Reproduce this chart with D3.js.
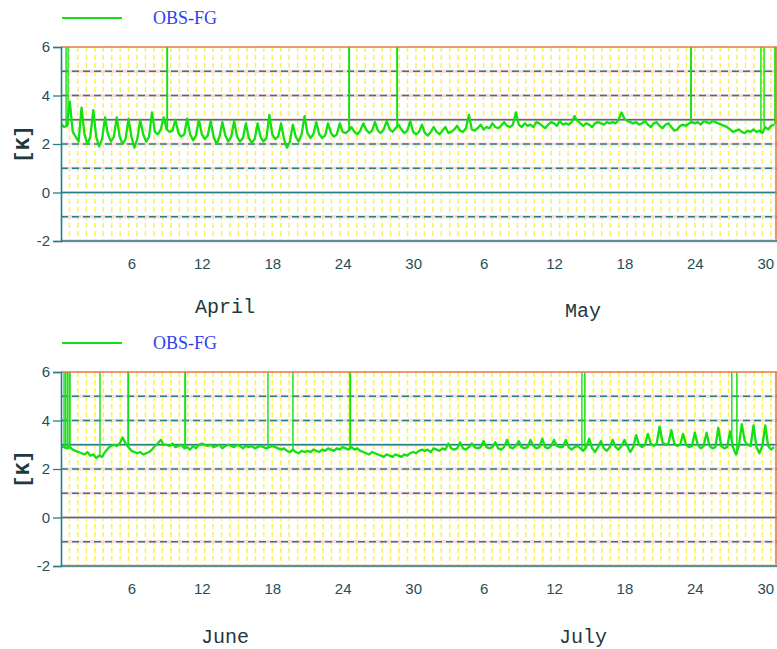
<!DOCTYPE html>
<html>
<head>
<meta charset="utf-8">
<script src="https://cdn.jsdelivr.net/npm/d3@7"></script>
<style>
  body { margin: 0; background: #fff; }
</style>
</head>
<body>
<div id="chart"></div>
<script>
// ---- data ----
const legendLabel = "OBS-FG";
const unitLabel = "[K]";
const yTicks = [-2, 0, 2, 4, 6];
const gridDashed = [-1, 1, 2, 4, 5];
const gridSolid = [0, 3];
const xTickDays = [6, 12, 18, 24, 30, 36, 42, 48, 54, 60];
const xTickLabels = ["6", "12", "18", "24", "30", "6", "12", "18", "24", "30"];
const monthsTop = ["April", "May"];
const monthsBottom = ["June", "July"];
const monthLengthsTop = [30, 31];
const monthLengthsBottom = [30, 31];

// 6-hourly OBS-FG means (00, 06, 12, 18 UTC), 1 April - 31 May
const aprMay = [
  2.85, 2.7, 2.75, 3.75,   2.5, 2.3, 2.1, 3.5,
  2.4, 2.0, 2.3, 3.4,      2.3, 1.9, 2.2, 3.1,
  2.4, 2.1, 2.3, 3.1,      2.3, 2.0, 2.2, 3.05,
  2.3, 1.85, 2.2, 3.0,     2.4, 2.1, 2.3, 3.3,
  2.5, 2.4, 2.6, 3.1,      2.6, 2.5, 2.55, 3.0,
  2.45, 2.3, 2.4, 3.05,    2.4, 2.15, 2.35, 3.0,
  2.4, 2.2, 2.35, 2.95,    2.3, 2.0, 2.3, 2.9,
  2.35, 2.1, 2.3, 2.95,    2.3, 2.1, 2.25, 2.85,
  2.25, 2.05, 2.2, 2.85,   2.3, 2.1, 2.25, 3.2,
  2.4, 2.2, 2.3, 2.85,     2.2, 1.85, 2.1, 2.8,
  2.3, 2.1, 2.4, 3.15,     2.45, 2.25, 2.4, 2.9,
  2.4, 2.25, 2.35, 2.85,   2.45, 2.3, 2.4, 2.85,
  2.5, 2.45, 2.55, 2.7,    2.5, 2.4, 2.55, 2.85,
  2.6, 2.45, 2.55, 2.9,    2.55, 2.45, 2.6, 2.95,
  2.6, 2.5, 2.65, 2.8,     2.6, 2.45, 2.55, 2.95,
  2.5, 2.4, 2.5, 2.8,      2.45, 2.35, 2.5, 2.7,
  2.5, 2.4, 2.55, 2.7,     2.45, 2.5, 2.6, 2.75,
  2.55, 2.5, 2.65, 3.2,    2.6, 2.55, 2.65, 2.8,
  2.6, 2.7, 2.65, 2.85,    2.7, 2.65, 2.75, 2.9,
  2.75, 2.7, 2.8, 3.3,     2.8, 2.7, 2.85, 2.75,
  2.8, 2.7, 2.9, 2.85,     2.75, 2.65, 2.8, 2.9,
  2.85, 2.75, 2.95, 2.8,   2.85, 2.8, 2.9, 3.15,
  2.95, 2.85, 2.75, 2.85,  2.8, 2.7, 2.85, 2.9,
  2.85, 2.8, 2.9, 2.85,    2.9, 2.85, 3.0, 3.3,
  3.05, 2.95, 2.9, 2.85,   2.9, 2.8, 2.85, 2.95,
  2.8, 2.7, 2.85, 2.9,     2.75, 2.65, 2.8, 2.85,
  2.7, 2.55, 2.6, 2.75,    2.8, 2.75, 2.85, 2.9,
  2.85, 2.9, 2.8, 2.95,    2.9, 2.85, 2.95, 2.9,
  2.85, 2.8, 2.75, 2.7,    2.6, 2.5, 2.55, 2.6,
  2.5, 2.45, 2.55, 2.5,    2.6, 2.5, 2.55, 2.45,
  2.7, 2.6, 2.75, 2.8
];

// 6-hourly OBS-FG means, 1 June - 31 July
const junJul = [
  2.95, 2.9, 2.85, 2.9,    2.8, 2.75, 2.7, 2.65,
  2.6, 2.7, 2.55, 2.6,     2.45, 2.55, 2.5, 2.7,
  2.85, 2.95, 3.0, 2.95,   3.05, 3.3, 3.05, 2.9,
  2.75, 2.7, 2.65, 2.7,    2.6, 2.65, 2.7, 2.8,
  2.95, 3.05, 3.2, 3.0,    3.0, 2.95, 3.05, 2.9,
  2.95, 3.0, 2.85, 2.9,    2.8, 2.95, 2.85, 3.0,
  3.05, 3.0, 2.95, 3.0,    2.9, 2.95, 3.0, 2.85,
  2.95, 3.0, 2.95, 2.9,    3.0, 2.95, 2.85, 2.95,
  2.9, 2.95, 2.85, 2.9,    2.95, 2.9, 2.85, 2.9,
  2.95, 2.9, 2.85, 2.8,    2.85, 2.75, 2.7, 2.8,
  2.7, 2.65, 2.75, 2.7,    2.75, 2.7, 2.8, 2.75,
  2.7, 2.8, 2.75, 2.85,    2.8, 2.75, 2.85, 2.8,
  2.9, 2.85, 2.8, 2.9,     2.8, 2.85, 2.75, 2.7,
  2.65, 2.6, 2.7, 2.65,    2.6, 2.55, 2.5, 2.6,
  2.55, 2.5, 2.6, 2.55,    2.5, 2.6, 2.55, 2.65,
  2.7, 2.65, 2.75, 2.8,    2.75, 2.8, 2.7, 2.85,
  2.8, 2.75, 2.85, 2.8,    3.05, 2.85, 2.8, 2.85,
  3.1, 2.85, 2.8, 2.9,     3.05, 2.9, 2.85, 2.9,
  3.15, 2.9, 2.85, 2.9,    3.1, 2.85, 2.8, 2.9,
  3.2, 2.9, 2.85, 2.95,    3.15, 2.9, 2.85, 2.9,
  3.2, 2.95, 2.85, 2.9,    3.25, 2.9, 2.85, 2.95,
  3.2, 2.95, 2.9, 2.9,     3.2, 2.9, 2.8, 2.9,
  2.95, 2.85, 2.75, 2.9,   3.25, 2.85, 2.7, 2.9,
  3.15, 2.85, 2.75, 2.9,   3.2, 2.9, 2.8, 2.95,
  3.2, 2.95, 2.7, 2.9,     3.4, 3.0, 2.9, 3.0,
  3.45, 3.05, 2.95, 3.05,  3.75, 3.1, 3.0, 3.05,
  3.6, 3.05, 2.95, 3.0,    3.45, 3.0, 2.9, 2.95,
  3.5, 3.0, 2.85, 2.95,    3.5, 2.95, 2.85, 2.9,
  3.7, 2.95, 2.85, 2.9,    3.55, 2.9, 2.6, 2.95,
  3.85, 3.15, 3.0, 2.95,   3.8, 2.9, 2.65, 2.95,
  3.8, 2.95, 2.8, 2.9
];

// times (days since start of panel) of off-scale departures
const aprMaySpikes = [0.43, 0.6, 9.03, 9.07, 24.53, 24.57, 28.62, 28.66, 53.66, 53.7, 59.63, 59.9, 60.82, 60.9];
const junJulSpikes = [0.26, 0.4, 0.55, 0.7, 0.77, 3.32, 5.71, 5.75, 10.56, 10.6, 17.63, 19.76, 24.62, 24.66, 44.38, 44.63, 57.15, 57.58];

// ---- layout ----
const W = 777, H = 649;
const plotLeft = 61, plotRight = 777;
const green = "#12e012";
const teal = "#247f86";
const textCol = "#1f4f58";

const svg = d3.select("#chart").append("svg")
  .attr("width", W)
  .attr("height", H)
  .style("font-family", "'Liberation Sans', Arial, sans-serif");

const x = d3.scaleLinear().domain([0, 61]).range([plotLeft, plotRight]);

function drawPanel(id, top, bottom, legendY, series, spikes, months, monthLengths, monthY) {
  const y = d3.scaleLinear().domain([-2, 6]).range([bottom, top]);
  const g = svg.append("g");

  // legend
  g.append("line")
    .attr("x1", 62).attr("x2", 122)
    .attr("y1", legendY).attr("y2", legendY)
    .attr("stroke", green).attr("stroke-width", 2);
  g.append("text")
    .attr("x", 153).attr("y", legendY + 6)
    .attr("fill", "#2f3ff0")
    .style("font-family", "'Liberation Serif', 'Times New Roman', serif")
    .style("font-size", "18px")
    .text(legendLabel);

  // yellow vertical grid
  g.append("g")
    .selectAll("line")
    .data(d3.range(0.72, 61, 0.72))
    .join("line")
    .attr("x1", d => x(d)).attr("x2", d => x(d))
    .attr("y1", top).attr("y2", bottom)
    .attr("stroke", "#fbf25a")
    .attr("stroke-width", 1.6)
    .attr("stroke-dasharray", "5,3");

  // horizontal grid with the faint pinkish fringe of the print
  const hg = g.append("g");
  const allGrid = gridDashed.concat(gridSolid);
  hg.selectAll("line.fringe")
    .data(allGrid)
    .join("line")
    .attr("class", "fringe")
    .attr("x1", plotLeft).attr("x2", plotRight)
    .attr("y1", d => y(d)).attr("y2", d => y(d))
    .attr("stroke", "#f8d8d8")
    .attr("stroke-width", 3);
  hg.selectAll("line.dash")
    .data(gridDashed)
    .join("line")
    .attr("class", "dash")
    .attr("x1", plotLeft).attr("x2", plotRight)
    .attr("y1", d => y(d)).attr("y2", d => y(d))
    .attr("stroke", teal)
    .attr("stroke-width", 1.4)
    .attr("stroke-dasharray", "7,4");
  hg.selectAll("line.solid")
    .data(gridSolid)
    .join("line")
    .attr("class", "solid")
    .attr("x1", plotLeft).attr("x2", plotRight)
    .attr("y1", d => y(d)).attr("y2", d => y(d))
    .attr("stroke", teal)
    .attr("stroke-width", 1.4);

  // clip for data
  svg.append("clipPath").attr("id", "clip" + id)
    .append("rect")
    .attr("x", plotLeft).attr("y", top)
    .attr("width", plotRight - plotLeft).attr("height", bottom - top);

  const data = g.append("g").attr("clip-path", `url(#clip${id})`);

  // off-scale spikes
  data.selectAll("line")
    .data(spikes)
    .join("line")
    .attr("x1", d => x(d)).attr("x2", d => x(d))
    .attr("y1", d => y(series[Math.min(series.length - 1, Math.round(d * 4))]))
    .attr("y2", top - 5)
    .attr("stroke", green)
    .attr("stroke-width", 1.4);

  const line = d3.line()
    .x((d, i) => x(i / 4))
    .y(d => y(d));
  data.append("path")
    .datum(series)
    .attr("d", line)
    .attr("fill", "none")
    .attr("stroke", green)
    .attr("stroke-width", 2.3)
    .attr("stroke-linejoin", "round");

  // frame: orange top/right, teal bottom/left
  g.append("line")
    .attr("x1", plotLeft).attr("x2", plotRight)
    .attr("y1", top).attr("y2", top)
    .attr("stroke", "#e8764a").attr("stroke-width", 1.6);
  g.append("line")
    .attr("x1", plotRight - 1).attr("x2", plotRight - 1)
    .attr("y1", top).attr("y2", bottom)
    .attr("stroke", "#e8764a").attr("stroke-width", 1.6);
  g.append("line")
    .attr("x1", plotLeft).attr("x2", plotRight)
    .attr("y1", bottom).attr("y2", bottom)
    .attr("stroke", "#f6c6c6").attr("stroke-width", 3.2);
  g.append("line")
    .attr("x1", plotLeft).attr("x2", plotRight)
    .attr("y1", bottom).attr("y2", bottom)
    .attr("stroke", teal).attr("stroke-width", 1.5);

  // y axis
  const yAxis = g.append("g")
    .attr("transform", `translate(${plotLeft},0)`)
    .call(d3.axisLeft(y).tickValues(yTicks).tickSize(8).tickPadding(3).tickFormat(d => String(d)));
  yAxis.select(".domain").attr("stroke", teal).attr("stroke-width", 1.6);
  yAxis.selectAll(".tick line").attr("stroke", teal).attr("stroke-width", 1.3);
  yAxis.selectAll("text")
    .attr("fill", textCol)
    .style("font-size", "15px")
    .style("font-family", "'Liberation Sans', Arial, sans-serif");

  // x axis labels
  const xAxis = g.append("g")
    .attr("transform", `translate(0,${bottom})`)
    .call(d3.axisBottom(x).tickValues(xTickDays).tickSize(0).tickPadding(17).tickFormat((d, i) => xTickLabels[i]));
  xAxis.select(".domain").remove();
  xAxis.selectAll("text")
    .attr("fill", textCol)
    .style("font-size", "15px")
    .style("font-family", "'Liberation Sans', Arial, sans-serif");

  // unit label
  g.append("text")
    .attr("transform", `translate(29,${(top + bottom) / 2}) rotate(-90)`)
    .attr("text-anchor", "middle")
    .attr("fill", "#22383c")
    .style("font-family", "'Liberation Mono', 'Courier New', monospace")
    .style("font-size", "21px")
    .style("font-weight", "bold")
    .text(unitLabel);

  // month names
  let start = 0;
  months.forEach((m, i) => {
    const mid = start + monthLengths[i] / 2;
    g.append("text")
      .attr("x", x(mid) - 12)
      .attr("y", monthY[i])
      .attr("text-anchor", "middle")
      .attr("fill", "#22383c")
      .style("font-family", "'Liberation Mono', 'Courier New', monospace")
      .style("font-size", "20px")
      .text(m);
    start += monthLengths[i];
  });
}

drawPanel("a", 47, 241, 18, aprMay, aprMaySpikes, monthsTop, monthLengthsTop, [313, 317]);
drawPanel("b", 372, 566, 343, junJul, junJulSpikes, monthsBottom, monthLengthsBottom, [643, 643]);
</script>
</body>
</html>
